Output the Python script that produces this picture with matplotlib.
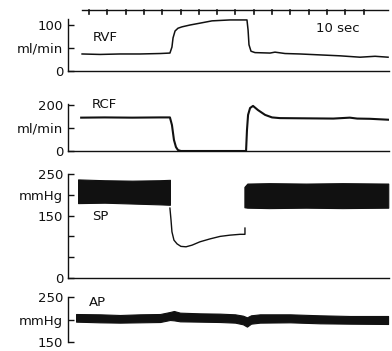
import matplotlib.pyplot as plt

# ---------------- data (time in s, values in panel units) ----------------
rvf_t = [7.7, 17.5, 28.4, 39.3, 50.3, 55.7, 56.8, 57.4, 58.5, 60.1, 62.3, 66.7, 72.1, 78.7, 88.5, 97.8,
         98.4, 98.9, 100.0, 102.2, 110.4, 113.1, 118.6, 126.8, 137.7, 148.6, 159.6, 167.8, 174.9]
rvf_v = [37, 36, 37, 37, 38, 39, 52, 72, 87, 93, 96, 100, 104, 109, 111, 111,
         89, 57, 43, 40, 39, 41, 38, 37, 35, 33, 30, 32, 30]

rcf_t = [7.2, 20, 35, 50, 55.7, 56.8, 57.9, 59.0, 60.1, 61.7, 97.3, 97.8, 98.4, 99.5, 101.1, 103.8,
         107.7, 111.5, 115.8, 130, 145, 154, 158, 165, 175]
rcf_v = [145, 146, 145, 146, 146, 113, 48, 17, 4, 0, 0, 91, 157, 187, 196, 178,
         157, 146, 143, 142, 141, 145, 141, 140, 136]

sp_band1_t = [5.5, 20, 35, 50, 55.7]
sp_band1_sys = [237, 235, 234, 235, 236]
sp_band1_dia = [180, 181, 179, 177, 176]
sp_line_t = [55.7, 56.3, 56.8, 57.9, 59.6, 61.7, 64.5, 67.8, 72.1, 77.6, 83.1, 88.5, 94.0, 96.7, 96.7]
sp_line_v = [168, 139, 111, 91, 82, 76, 75, 79, 87, 94, 100, 103, 105, 105, 120]
sp_band2_t = [96.4, 98, 110, 130, 150, 175]
sp_band2_sys = [219, 227, 228, 227, 228, 227]
sp_band2_dia = [170, 169, 168, 169, 168, 169]

ap_t = [4.4, 17.5, 28.4, 39.3, 50.3, 55.7, 57.9, 61.2, 72.1, 83.1, 91.3, 95.6, 97.8, 100.0, 104.9, 121.3, 137.7, 154.1, 174.9]
ap_sys = [212.2, 211.5, 210.0, 211.5, 212.2, 216.7, 218.9, 215.2, 213.7, 213.0, 211.5, 208.5, 204.8, 209.3, 211.5, 211.5, 209.3, 207.8, 207.8]
ap_dia = [195.2, 193.7, 193.0, 193.7, 194.4, 198.9, 198.1, 195.9, 195.2, 194.4, 193.0, 189.3, 184.1, 190.7, 193.0, 193.7, 191.5, 190.7, 190.0]

timer_ticks = [11.5 + 10 * k for k in range(16)]

# ---------------- figure ----------------
W, H = 392, 351
fig = plt.figure(figsize=(W / 100, H / 100), dpi=100)
plt.rcParams['font.family'] = ['DejaVu Sans']
INK = '#111111'
XL = 68
PXS = 1.83
XMAX = (389 - XL) / PXS


def px_axes(top, bottom):
    return fig.add_axes([XL / W, 1 - bottom / H, (389 - XL) / W, (bottom - top) / H])


def style(ax, ticks, labels, bounds, bottom=True):
    ax.set_xlim(0, XMAX)
    for s in ['top', 'right']:
        ax.spines[s].set_visible(False)
    ax.spines['bottom'].set_visible(bottom)
    ax.spines['left'].set_bounds(*bounds)
    for s in ['left', 'bottom']:
        ax.spines[s].set_linewidth(1.0)
        ax.spines[s].set_color(INK)
    ax.set_xticks([])
    ax.set_yticks(ticks)
    ax.set_yticklabels(labels)
    ax.tick_params(axis='y', direction='in', length=4, width=1.0, pad=3.5,
                   labelsize=9.5, colors=INK)
    ax.patch.set_visible(False)


# Panel 1: RVF
ax1 = px_axes(6, 71)
ax1.set_ylim(0, (71 - 6) / 0.46)
style(ax1, [0, 50, 100], ['0', 'ml/min', '100'], (0, 112))
ax1.plot(rvf_t, rvf_v, color=INK, lw=1.1)
tl = (71 - 10) / 0.46
ax1.plot([7.7, 175], [tl, tl], color=INK, lw=1.0, clip_on=False)
for tt in timer_ticks:
    ax1.plot([tt, tt], [tl, tl - 4 / 0.46], color=INK, lw=1.2, clip_on=False)
ax1.text(13.7, 72, 'RVF', fontsize=9.5, va='center', ha='left', color=INK)
ax1.text(135.5, 92, '10 sec', fontsize=9.5, va='center', ha='left', color=INK)

# Panel 2: RCF
ax2 = px_axes(100, 151)
ax2.set_ylim(0, (151 - 100) / 0.23)
style(ax2, [0, 100, 200], ['0', 'ml/min', '200'], (0, 203))
ax2.plot(rcf_t, rcf_v, color=INK, lw=1.5)
ax2.text(13.1, 203, 'RCF', fontsize=9.5, va='center', ha='left', color=INK)

# Panel 3: SP
ax3 = px_axes(170, 278)
ax3.set_ylim(0, (278 - 170) / 0.416)
style(ax3, [0, 50, 100, 150, 200, 250], ['0', '', '', '150', 'mmHg', '250'], (0, 250))
ax3.fill_between(sp_band1_t, sp_band1_dia, sp_band1_sys, color=INK, lw=0.8, edgecolor=INK)
ax3.plot(sp_line_t, sp_line_v, color=INK, lw=1.0)
ax3.fill_between(sp_band2_t, sp_band2_dia, sp_band2_sys, color=INK, lw=0.8, edgecolor=INK)
ax3.text(13.1, 149, 'SP', fontsize=9.5, va='center', ha='left', color=INK)

# Panel 4: AP
ax4 = px_axes(292, 345)
ax4.set_ylim(250 - (345 - 297) / 0.45, 250 + 5 / 0.45)
style(ax4, [150, 200, 250], ['150', 'mmHg', '250'], (150, 250), bottom=False)
ax4.fill_between(ap_t, ap_dia, ap_sys, color=INK, lw=0.8, edgecolor=INK)
ax4.text(11.5, 237, 'AP', fontsize=9.5, va='center', ha='left', color=INK)

fig.savefig('out.png', dpi=100)
